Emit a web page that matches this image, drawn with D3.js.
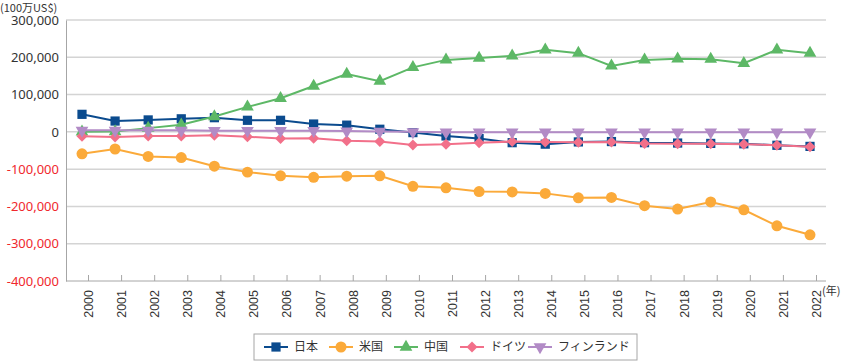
<!DOCTYPE html>
<html>
<head>
<meta charset="utf-8">
<script src="https://cdn.jsdelivr.net/npm/d3@7"></script>
<style>
  body { margin: 0; background: #fff; }
  svg { font-family: "Noto Sans CJK JP", "Noto Sans", sans-serif; }
  .grid line { stroke: #d4d4d4; stroke-width: 1.5; }
  .axis path, .axis line { stroke: #a6a6a6; }
</style>
</head>
<body>
<div class="wrapper"></div>
<script>
var years = ["2000","2001","2002","2003","2004","2005","2006","2007","2008","2009","2010",
  "2011","2012","2013","2014","2015","2016","2017","2018","2019","2020","2021","2022"];
var yTicks = [300000, 200000, 100000, 0, -100000, -200000, -300000, -400000];

var japan = [47000, 29000, 32000, 35000, 38000, 31000, 31000, 21000, 18000, 7000, -2000,
  -11000, -18000, -29000, -33000, -27000, -26000, -29000, -30000, -31000, -32000, -36000, -39000];
var usa = [-59000, -46000, -66000, -69000, -92000, -108000, -118000, -122000, -119000, -118000, -146000,
  -150000, -160000, -161000, -165000, -177000, -176000, -198000, -207000, -188000, -209000, -252000, -276000];
var china = [0, 1000, 10000, 19000, 41000, 67000, 90000, 123000, 155000, 136000, 173000,
  193000, 198000, 204000, 220000, 211000, 177000, 193000, 196000, 195000, 184000, 220000, 211000];
var germany = [-12000, -14000, -11000, -11000, -9000, -13000, -18000, -17000, -24000, -26000, -35000,
  -33000, -29000, -26000, -27000, -28000, -27000, -31000, -32000, -32000, -33000, -36000, -40000];
var finland = [4000, 4000, 4000, 4000, 3000, 3000, 3000, 3000, 2000, 1000, 0,
  -1000, -1000, -1000, -1000, -1000, -1000, -1000, -1000, -1000, -1000, -1000, -1000];

var series = [
  { name: "日本", values: japan, color: "#0b4b8e", symbol: d3.symbolSquare, size: 85, rotate: 0 },
  { name: "米国", values: usa, color: "#fbaa3a", symbol: d3.symbolCircle, size: 95, rotate: 0 },
  { name: "中国", values: china, color: "#5db866", symbol: d3.symbolTriangle, size: 70, rotate: 0 },
  { name: "ドイツ", values: germany, color: "#f2708a", symbol: d3.symbolSquare, size: 60, rotate: 45 },
  { name: "フィンランド", values: finland, color: "#b28bc6", symbol: d3.symbolTriangle, size: 70, rotate: 180 }
];

var width = 842, height = 362;
var margin = { top: 20, left: 66, right: 16, bottom: 81 };
var innerW = width - margin.left - margin.right;
var innerH = height - margin.top - margin.bottom;
var tickShift = 6;

var svg = d3.select(".wrapper").append("svg")
  .attr("width", width)
  .attr("height", height);

var g = svg.append("g").attr("transform", `translate(${margin.left},${margin.top})`);

var x = d3.scalePoint().domain(years).range([16, innerW - 16]);
var y = d3.scaleLinear().domain([-400000, 300000]).range([innerH, 0]);

// gridlines
g.append("g").attr("class", "grid")
  .selectAll("line").data(yTicks.filter(d => d !== -400000)).enter()
  .append("line")
  .attr("x1", 0).attr("x2", innerW)
  .attr("y1", d => y(d)).attr("y2", d => y(d));

// y axis
var yAxisG = g.append("g").attr("class", "axis")
  .call(d3.axisLeft(y).tickValues(yTicks).tickSize(0).tickPadding(7)
    .tickFormat(d => d3.format(",")(d).replace("−", "-")));
yAxisG.select(".domain").attr("stroke", "#a6a6a6");
yAxisG.selectAll("text")
  .attr("font-family", "'Noto Sans', sans-serif")
  .attr("font-size", 13)
  .attr("fill", d => d < 0 ? "#f0282d" : "#333");

// x axis
var xAxisG = g.append("g").attr("class", "axis")
  .attr("transform", `translate(${tickShift},${innerH})`)
  .call(d3.axisBottom(x).tickSizeInner(-6).tickSizeOuter(0));
xAxisG.select(".domain").attr("d", `M${-tickShift},0H${innerW - tickShift}`);
xAxisG.selectAll("text")
  .attr("font-size", 12.5)
  .attr("fill", "#333")
  .attr("text-anchor", "end")
  .attr("transform", "translate(0,9) rotate(-90)")
  .attr("x", 0).attr("y", 0).attr("dy", "0.35em");

g.append("text")
  .attr("x", x("2022") + tickShift + 6)
  .attr("y", innerH + 10)
  .attr("dy", "0.35em")
  .attr("font-size", 11)
  .attr("fill", "#333")
  .text("(年)");

svg.append("text")
  .attr("x", 0).attr("y", 12)
  .attr("font-size", 11)
  .attr("fill", "#333")
  .text("(100万US$)");

// lines and markers
var line = d3.line().x((d, i) => x(years[i])).y(d => y(d));

series.forEach(s => {
  var sg = g.append("g");
  sg.append("path")
    .datum(s.values)
    .attr("fill", "none")
    .attr("stroke", s.color)
    .attr("stroke-width", 2)
    .attr("d", line);
  sg.selectAll("path.marker").data(s.values).enter()
    .append("path")
    .attr("class", "marker")
    .attr("d", d3.symbol().type(s.symbol).size(s.size))
    .attr("fill", s.color)
    .attr("transform", (d, i) => `translate(${x(years[i])},${y(d)}) rotate(${s.rotate})`);
});

// legend
var legend = svg.append("g").attr("transform", "translate(254,334)");
legend.append("rect")
  .attr("width", 383).attr("height", 26)
  .attr("fill", "#fff").attr("stroke", "#a6a6a6");
var legendX = [10, 75, 140, 206, 274];
series.forEach((s, i) => {
  var lg = legend.append("g").attr("transform", `translate(${legendX[i]},13)`);
  lg.append("line").attr("x1", 0).attr("x2", 24)
    .attr("stroke", s.color).attr("stroke-width", 2);
  lg.append("path")
    .attr("d", d3.symbol().type(s.symbol).size(s.size))
    .attr("fill", s.color)
    .attr("transform", `translate(12,0) rotate(${s.rotate})`);
  lg.append("text")
    .attr("x", 30).attr("dy", "0.35em")
    .attr("font-size", 12)
    .attr("fill", "#333")
    .text(s.name);
});
</script>
</body>
</html>
